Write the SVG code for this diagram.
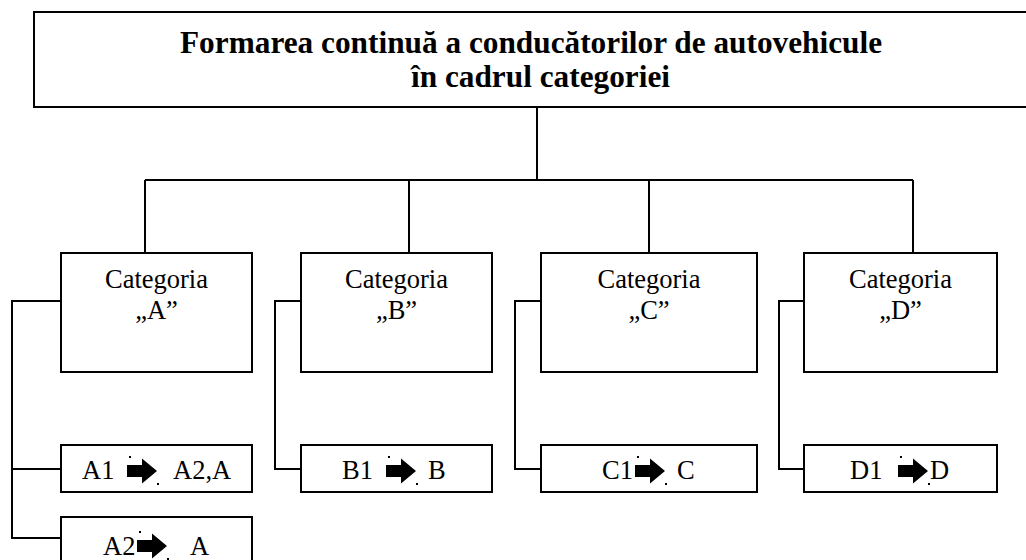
<svg xmlns="http://www.w3.org/2000/svg" width="1026" height="560" viewBox="0 0 1026 560">
<style>
.box{fill:#fff;stroke:#000;stroke-width:2}
.ln{fill:none;stroke:#000;stroke-width:2}
.t{font-family:"Liberation Serif","Times New Roman",serif;font-size:26.5px;fill:#000}
.c{text-anchor:middle}
.title{font-family:"Liberation Serif","Times New Roman",serif;font-size:31.3px;font-weight:bold;fill:#000}
.dot{fill:#000}
</style>
<defs>
<g id="arr">
<polygon points="0,-6 15,-6 15,-12.5 30,0 15,12.5 15,6 0,6" fill="#000"/>
<rect class="dot" x="2" y="-15" width="2" height="2"/>
<rect class="dot" x="30" y="12" width="2" height="2"/>
</g>
</defs>
<g id="connectors">
<path class="ln" d="M537,107 V180 M145,180 H913 M145,180 V253 M409,180 V253 M649,180 V253 M913,180 V253"/>
<path class="ln" d="M61,301 H12 V538 H61 M12,469 H61"/>
<path class="ln" d="M301,301 H275 V469 H301"/>
<path class="ln" d="M541,301 H515 V469 H541"/>
<path class="ln" d="M804,301 H779 V469 H804"/>
</g>
<g id="root">
<rect class="box" x="34" y="12" width="1010" height="95"/>
<text class="title" x="180" y="53">Formarea continuă a conducătorilor de autovehicule</text>
<text class="title" x="411" y="87">în cadrul categoriei</text>
</g>
<g id="catA">
<rect class="box" x="61" y="253" width="191" height="119"/>
<text class="t c" x="156.5" y="288">Categoria</text>
<text class="t c" x="156.5" y="319">„A”</text>
</g>
<g id="catB">
<rect class="box" x="301" y="253" width="191" height="119"/>
<text class="t c" x="396.5" y="288">Categoria</text>
<text class="t c" x="396.5" y="319">„B”</text>
</g>
<g id="catC">
<rect class="box" x="541" y="253" width="216" height="119"/>
<text class="t c" x="649" y="288">Categoria</text>
<text class="t c" x="649" y="319">„C”</text>
</g>
<g id="catD">
<rect class="box" x="804" y="253" width="193" height="119"/>
<text class="t c" x="900.5" y="288">Categoria</text>
<text class="t c" x="900.5" y="319">„D”</text>
</g>
<g id="A1">
<rect class="box" x="61" y="445" width="191" height="47"/>
<text class="t" x="82" y="479">A1</text>
<use href="#arr" x="127" y="471"/>
<text class="t" x="173" y="479">A2,A</text>
</g>
<g id="A2">
<rect class="box" x="61" y="517" width="191" height="60"/>
<text class="t" x="103" y="555">A2</text>
<use href="#arr" x="137" y="546"/>
<text class="t" x="190" y="555">A</text>
</g>
<g id="B1">
<rect class="box" x="301" y="445" width="191" height="47"/>
<text class="t" x="342" y="479">B1</text>
<use href="#arr" x="386" y="471"/>
<text class="t" x="428" y="479">B</text>
</g>
<g id="C1">
<rect class="box" x="541" y="445" width="216" height="47"/>
<text class="t" x="602" y="479">C1</text>
<use href="#arr" x="635" y="471"/>
<text class="t" x="677" y="479">C</text>
</g>
<g id="D1">
<rect class="box" x="804" y="445" width="193" height="47"/>
<text class="t" x="850" y="479">D1</text>
<use href="#arr" x="898" y="471"/>
<text class="t" x="930" y="479">D</text>
</g>
</svg>
